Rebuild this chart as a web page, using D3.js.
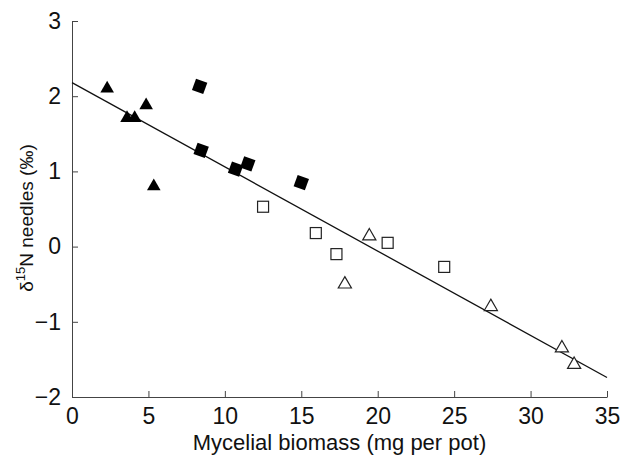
<!DOCTYPE html>
<html>
<head>
<meta charset="utf-8">
<script src="https://cdn.jsdelivr.net/npm/d3@7"></script>
<style>
  body { margin: 0; background: #fff; }
  svg { font-family: "Liberation Sans", Arial, sans-serif; }
</style>
</head>
<body>
<div id="chart"></div>
<script>
// filled triangles
const filledTri = [[2.3, 2.1], [3.6, 1.71], [4.1, 1.71], [4.85, 1.88], [5.35, 0.8]];
// filled squares (drawn tilted)
const filledSq = [[8.35, 2.13], [8.45, 1.28], [10.7, 1.03], [11.5, 1.1], [15.0, 0.85]];
// open squares
const openSq = [[12.5, 0.53], [15.95, 0.18], [17.3, -0.1], [20.65, 0.05], [24.35, -0.27]];
// open triangles
const openTri = [[17.85, -0.5], [19.45, 0.14], [27.4, -0.8], [32.05, -1.35], [32.85, -1.57]];

// regression line
const fitLine = [[0, 2.18], [35, -1.74]];

const xTicks = [0, 5, 10, 15, 20, 25, 30, 35];
const yTicks = [-2, -1, 0, 1, 2, 3];

const width = 623;
const height = 460;
const margin = { top: 21, right: 16, bottom: 63, left: 72 };

const x = d3.scaleLinear()
        .domain([0, 35])
        .range([margin.left, width - margin.right]);

const y = d3.scaleLinear()
        .domain([-2, 3])
        .range([height - margin.bottom, margin.top]);

const svg = d3.select("#chart")
      .append("svg")
      .attr("width", width)
      .attr("height", height);

// x axis, ticks inward
const xAxis = g => g
        .attr("transform", `translate(0, ${y(-2)})`)
        .call(d3.axisBottom(x).tickValues(xTicks).tickSize(-6).tickSizeOuter(0).tickPadding(11)
          .tickFormat(d => d))
        .call(g => g.select(".domain").attr("stroke", "#444"))
        .call(g => g.selectAll(".tick line").attr("stroke", "#444"))
        .call(g => g.selectAll("text").attr("font-size", 23).attr("fill", "#111").attr("dy", "0.71em"));
svg.append("g").call(xAxis);

// y axis, ticks inward
const yAxis = g => g
        .attr("transform", `translate(${x(0)}, 0)`)
        .call(d3.axisLeft(y).tickValues(yTicks).tickSize(-6).tickSizeOuter(0).tickPadding(11)
          .tickFormat(d => d < 0 ? "\u2212" + Math.abs(d) : d))
        .call(g => g.select(".domain").attr("stroke", "#444"))
        .call(g => g.selectAll(".tick line").attr("stroke", "#444"))
        .call(g => g.selectAll("text").attr("font-size", 23).attr("fill", "#111"));
svg.append("g").call(yAxis);

// x title
svg.append("text")
      .attr("x", x(17.5))
      .attr("y", 450)
      .attr("text-anchor", "middle")
      .attr("font-size", 22)
      .attr("fill", "#111")
      .text("Mycelial biomass (mg per pot)");

// y title
const yTitle = svg.append("text")
      .attr("transform", `translate(33, ${y(0.38)}) rotate(-90)`)
      .attr("text-anchor", "middle")
      .attr("font-size", 19)
      .attr("fill", "#111");
yTitle.append("tspan").text("\u03b4");
yTitle.append("tspan").attr("font-size", 13).attr("dy", -8).text("15");
yTitle.append("tspan").attr("dy", 8).text("N needles (\u2030)");

// regression line
svg.append("line")
      .attr("x1", x(fitLine[0][0]))
      .attr("y1", y(fitLine[0][1]))
      .attr("x2", x(fitLine[1][0]))
      .attr("y2", y(fitLine[1][1]))
      .attr("stroke", "#111")
      .attr("stroke-width", 1.3);

const tri = d3.symbol().type(d3.symbolTriangle);

svg.append("g")
  .selectAll("path")
  .data(filledTri)
  .join("path")
      .attr("d", tri.size(80))
      .attr("transform", d => `translate(${x(d[0])}, ${y(d[1])})`)
      .attr("fill", "#000");

svg.append("g")
  .selectAll("rect")
  .data(filledSq)
  .join("rect")
      .attr("x", -6)
      .attr("y", -6)
      .attr("width", 12)
      .attr("height", 12)
      .attr("transform", d => `translate(${x(d[0])}, ${y(d[1])}) rotate(20)`)
      .attr("fill", "#000");

svg.append("g")
  .selectAll("rect")
  .data(openSq)
  .join("rect")
      .attr("x", d => x(d[0]) - 5.5)
      .attr("y", d => y(d[1]) - 5.5)
      .attr("width", 11)
      .attr("height", 11)
      .attr("fill", "#fff")
      .attr("stroke", "#222")
      .attr("stroke-width", 1.2);

svg.append("g")
  .selectAll("path")
  .data(openTri)
  .join("path")
      .attr("d", tri.size(75))
      .attr("transform", d => `translate(${x(d[0])}, ${y(d[1])})`)
      .attr("fill", "#fff")
      .attr("stroke", "#222")
      .attr("stroke-width", 1.2);
</script>
</body>
</html>
